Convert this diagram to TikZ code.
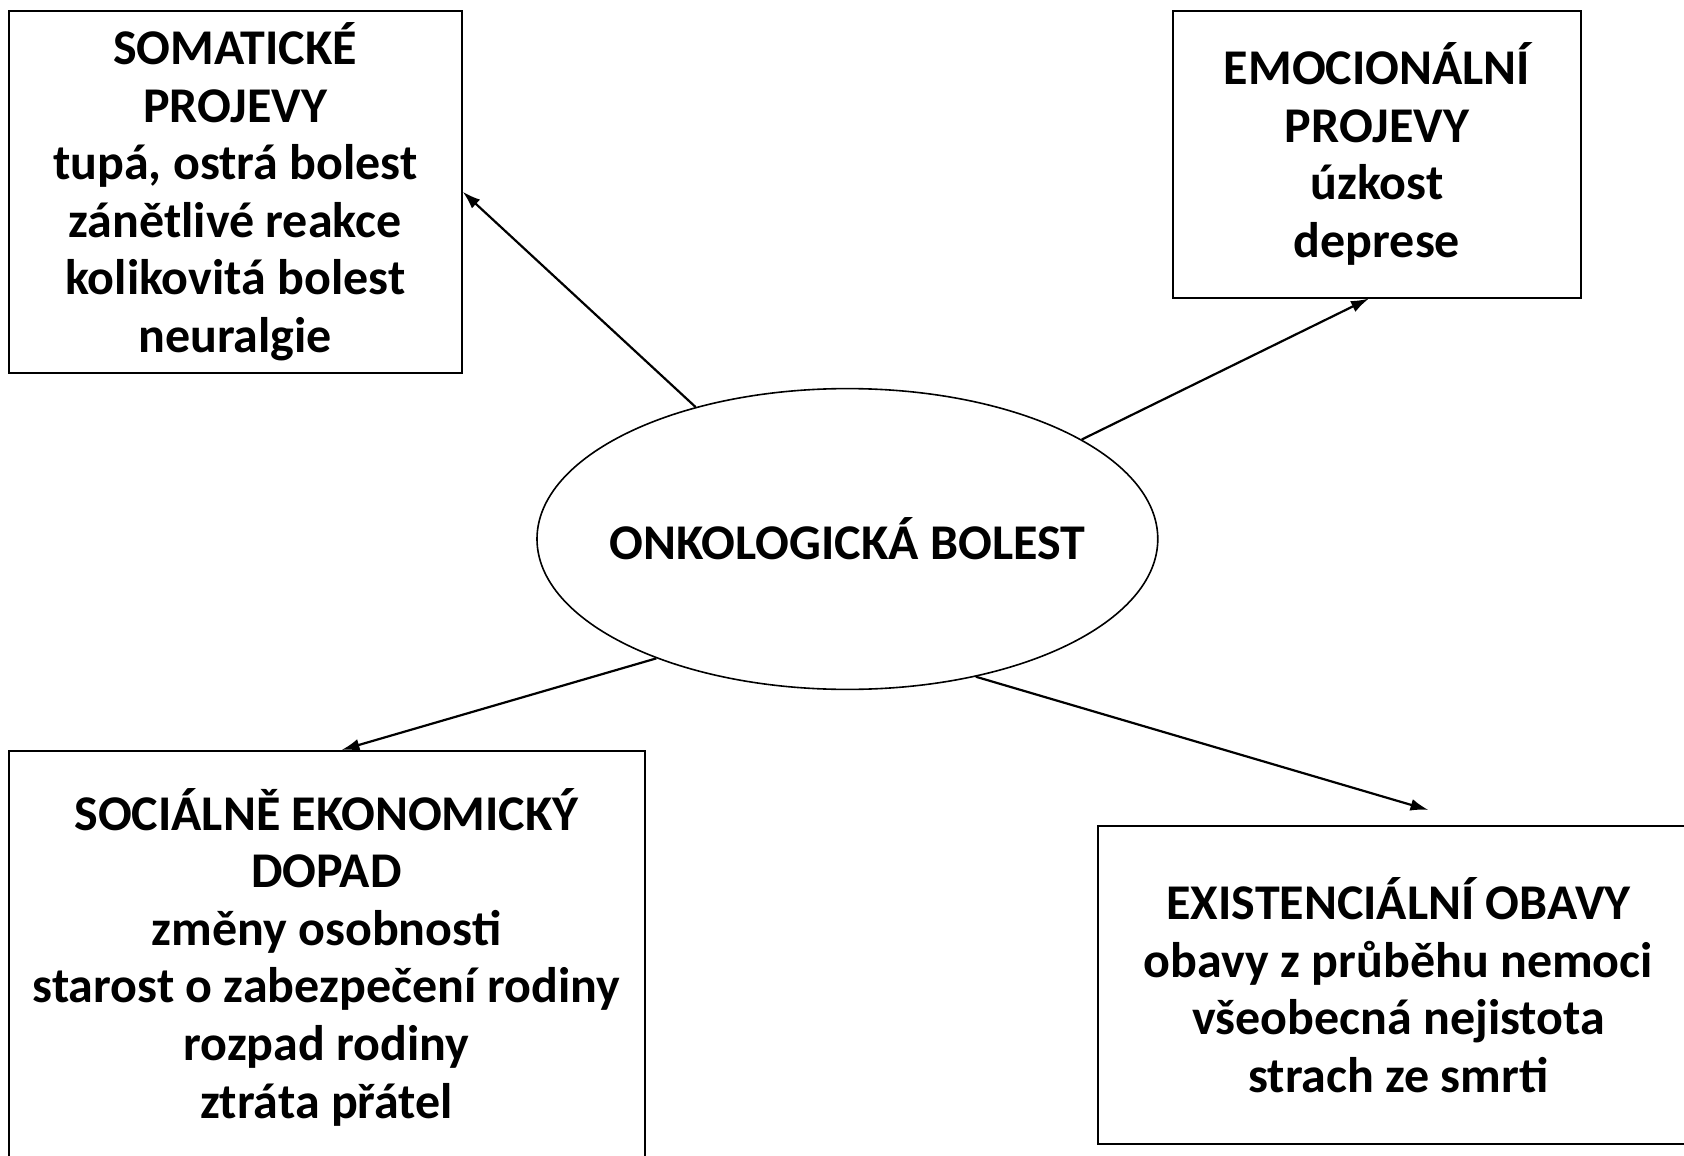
\documentclass[tikz,border=0pt]{standalone}
\usepackage{fontspec}
\setmainfont{Carlito}
\usepackage{tikz}
\usetikzlibrary{arrows.meta, shapes.geometric}
\tikzset{
    box/.style={draw, line width=0.5pt, align=center, inner sep=0pt,
        font=\fontsize{12.5}{14.4}\selectfont\bfseries},
    arr/.style={-{Latex[length=4.5pt,width=3pt]}, line width=0.55pt}
}

\begin{document}
\begin{tikzpicture}[x=0.25pt, y=-0.25pt]
    % Page frame
    \useasboundingbox (0,0) rectangle (1684,1156);
    \clip (0,0) rectangle (1684,1156);

    % Centre
    \node[ellipse, draw, line width=0.4pt, inner xsep=-8pt, inner ysep=0pt,
        minimum width=155.2pt, minimum height=75.2pt,
        font=\fontsize{12.5}{14.4}\selectfont\bfseries] (bolest) at (847.4,539) {ONKOLOGICKÁ BOLEST};

    % Boxes
    \node[box, minimum width=113.25pt, minimum height=90.5pt] (soma) at (235.2,191.7)
        {SOMATICKÉ\\PROJEVY\\tupá, ostrá bolest\\zánětlivé reakce\\kolikovitá bolest\\neuralgie};
    \node[box, minimum width=102pt, minimum height=71.75pt] (emo) at (1377,154)
        {EMOCIONÁLNÍ\\PROJEVY\\úzkost\\deprese};
    \node[box, minimum width=159pt, minimum height=103pt] (social) at (326.5,957)
        {SOCIÁLNĚ EKONOMICKÝ\\DOPAD\\změny osobnosti\\starost o zabezpečení rodiny\\rozpad rodiny\\ztráta přátel};
    \node[box, minimum width=150.25pt, minimum height=79.5pt] (exist) at (1398.5,985)
        {EXISTENCIÁLNÍ OBAVY\\obavy z průběhu nemoci\\všeobecná nejistota\\strach ze smrti};

    % Arrows
    \draw[arr] (bolest.139.7) -- (soma.east);
    \draw[arr] (bolest.23.95) -- ([xshift=-2pt]emo.south);
    \draw[arr] (bolest.212.9) -- ([xshift=3.75pt]social.north);
    \draw[arr] (bolest.313.1) -- ([xshift=7.5pt, yshift=3.75pt]exist.north);
\end{tikzpicture}
\end{document}
